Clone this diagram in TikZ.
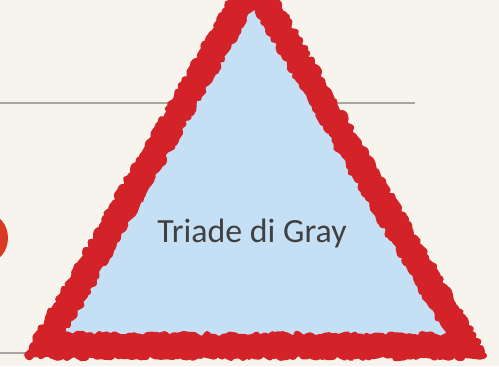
\documentclass[tikz,border=0pt]{standalone}
\usepackage{fontspec}
\setmainfont{Carlito}
\usepackage{xcolor}
\usetikzlibrary{positioning,calc,decorations.pathmorphing}

\definecolor{paper}{RGB}{247,244,238}
\definecolor{rulegray}{RGB}{168,164,162}
\definecolor{brush}{RGB}{211,34,40}
\definecolor{sky}{RGB}{197,224,244}
\definecolor{titlered}{RGB}{218,58,34}
\definecolor{ink}{RGB}{64,64,64}

\begin{document}
\begin{tikzpicture}[
    x=1bp, y=-1bp,
    rulebar/.style={
        draw=rulegray,
        line width=2.5bp
    },
    brushstroke/.style={
        draw=brush,
        line join=round,
        decorate,
        decoration={random steps, segment length=3bp, amplitude=2.5bp}
    },
    graylabel/.style={
        text=ink,
        inner sep=0pt,
        font=\fontsize{34}{40}\selectfont
    }
]
\pgfmathsetseed{7}

% ---------------- PAGE ----------------
\useasboundingbox (0,0) rectangle (499,366);
\clip (0,0) rectangle (499,366);
\fill[paper] (0,0) rectangle (499,366);

% ---------------- RULES ----------------
\draw[rulebar] (0,103) -- (415,103);
\draw[rulebar] (0,353) -- (415,353);

% ---------------- TITLE FRAGMENT ----------------
\fill[titlered] (-12,238) ellipse [x radius=20, y radius=24];

% ---------------- TRIANGLE ----------------
\coordinate (apex) at (253,-17);
\coordinate (right) at (467,346);
\coordinate (left) at (44,346);
\coordinate (mid) at (254.7,225);

\fill[sky] (apex) -- (right) -- (left) -- cycle;
\draw[brush, line width=20bp, line join=miter] (apex) -- (right) -- (left) -- cycle;
\draw[brushstroke, line width=6bp]
    ($(mid)!1.08!(apex)$) -- ($(mid)!1.08!(right)$) -- ($(mid)!1.08!(left)$) -- cycle;
\draw[brushstroke, line width=6bp]
    ($(mid)!0.92!(apex)$) -- ($(mid)!0.92!(right)$) -- ($(mid)!0.92!(left)$) -- cycle;

% ---------------- LABEL ----------------
\node[graylabel, anchor=base] (triade) at (252,242) {Triade di Gray};

\end{tikzpicture}
\end{document}
